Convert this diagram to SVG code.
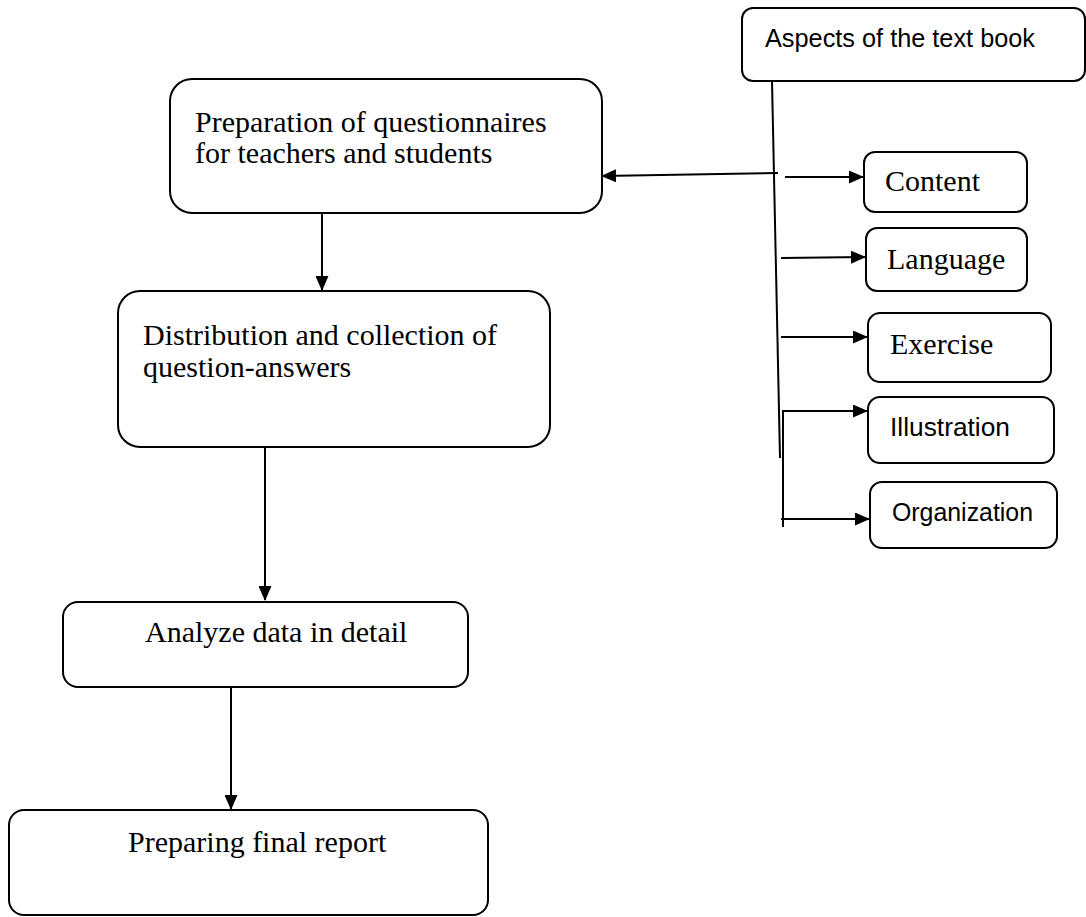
<svg xmlns="http://www.w3.org/2000/svg" width="1086" height="917" viewBox="0 0 1086 917">
<style>
.box{fill:#fff;stroke:#000;stroke-width:2}
.con{stroke:#000;stroke-width:2;fill:none}
.serif{font-family:"Liberation Serif","Times New Roman",serif;font-size:30px;fill:#000}
.sans{font-family:"Liberation Sans",Arial,sans-serif;font-size:25px;fill:#000}
</style>
<defs>
<marker id="ah" markerWidth="15" markerHeight="13" refX="14" refY="6.5" orient="auto" markerUnits="userSpaceOnUse">
<path d="M0,0 L15,6.5 L0,13 Z" fill="#000"/>
</marker>
</defs>
<rect width="1086" height="917" fill="#fff"/>
<g id="connectors">
<line class="con" x1="322" y1="214" x2="322" y2="290" marker-end="url(#ah)"/>
<line class="con" x1="265" y1="447" x2="265" y2="600" marker-end="url(#ah)"/>
<line class="con" x1="231" y1="687" x2="231" y2="809" marker-end="url(#ah)"/>
<line class="con" x1="772" y1="81" x2="780" y2="458"/>
<line class="con" x1="783" y1="410" x2="783" y2="527"/>
<line class="con" x1="778" y1="173" x2="602" y2="176" marker-end="url(#ah)"/>
<line class="con" x1="785" y1="177" x2="863" y2="177" marker-end="url(#ah)"/>
<line class="con" x1="781" y1="258" x2="865" y2="257" marker-end="url(#ah)"/>
<line class="con" x1="781" y1="337" x2="867" y2="337" marker-end="url(#ah)"/>
<line class="con" x1="782" y1="411" x2="867" y2="411" marker-end="url(#ah)"/>
<line class="con" x1="781" y1="519" x2="869" y2="519" marker-end="url(#ah)"/>
</g>
<g id="node-aspects">
<rect class="box" x="742" y="8" width="343" height="73" rx="11"/>
<text class="sans" x="765" y="47" textLength="270" lengthAdjust="spacingAndGlyphs">Aspects of the text book</text>
</g>
<g id="node-preparation">
<rect class="box" x="170" y="79" width="432" height="134" rx="22"/>
<text class="serif" x="195" y="132">Preparation of questionnaires</text>
<text class="serif" x="195" y="163">for teachers and students</text>
</g>
<g id="node-distribution">
<rect class="box" x="118" y="291" width="432" height="156" rx="22"/>
<text class="serif" x="143" y="345">Distribution and collection of</text>
<text class="serif" x="143" y="377">question-answers</text>
</g>
<g id="node-analyze">
<rect class="box" x="63" y="602" width="405" height="85" rx="15"/>
<text class="serif" x="145" y="642">Analyze data in detail</text>
</g>
<g id="node-final">
<rect class="box" x="9" y="810" width="479" height="105" rx="15"/>
<text class="serif" x="128" y="852">Preparing final report</text>
</g>
<g id="node-content">
<rect class="box" x="864" y="152" width="163" height="60" rx="11"/>
<text class="serif" x="885" y="191">Content</text>
</g>
<g id="node-language">
<rect class="box" x="866" y="228" width="161" height="63" rx="11"/>
<text class="serif" x="887" y="269">Language</text>
</g>
<g id="node-exercise">
<rect class="box" x="868" y="313" width="183" height="69" rx="12"/>
<text class="serif" x="890" y="354">Exercise</text>
</g>
<g id="node-illustration">
<rect class="box" x="868" y="397" width="186" height="66" rx="12"/>
<text class="sans" x="890" y="436" textLength="120" lengthAdjust="spacingAndGlyphs">Illustration</text>
</g>
<g id="node-organization">
<rect class="box" x="870" y="482" width="187" height="66" rx="12"/>
<text class="sans" x="892" y="521" textLength="141" lengthAdjust="spacingAndGlyphs">Organization</text>
</g>
</svg>
